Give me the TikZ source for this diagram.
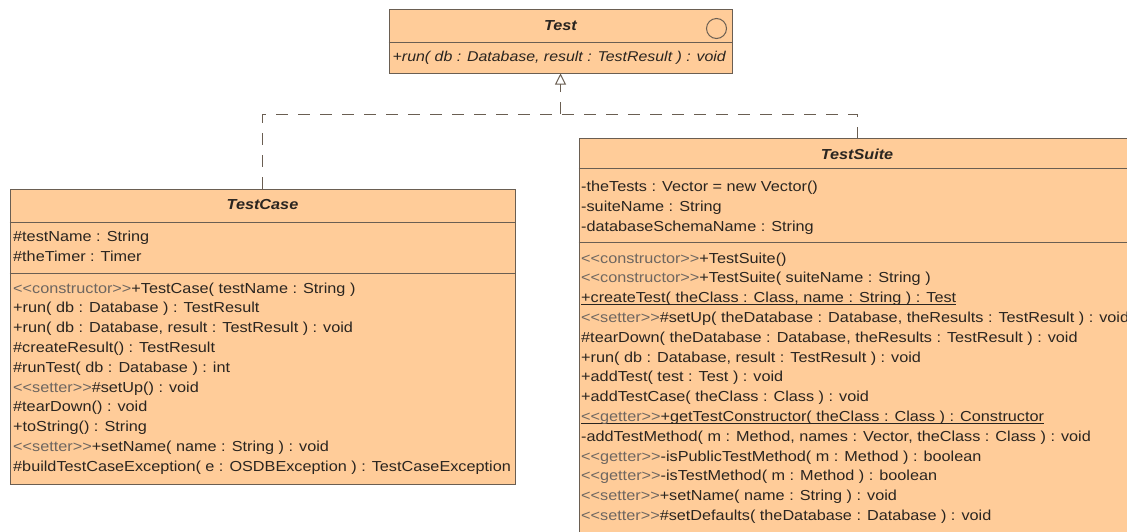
\documentclass[tikz,border=0pt]{standalone}
\usepackage{fontspec}
\setmainfont{Liberation Sans}[FakeStretch=1.12]
\usetikzlibrary{arrows.meta}
\definecolor{classfill}{HTML}{FFCC99}
\definecolor{classline}{HTML}{6A5E52}
\definecolor{txt}{HTML}{2A2520}
\definecolor{stereo}{HTML}{6E6660}
\newcommand{\stc}[1]{\textcolor{stereo}{<{}<#1>{}>}}
\newcommand{\uln}[1]{\setbox0\hbox{#1}\rlap{\rule[-2.2pt]{\wd0}{0.9pt}}\box0}
\begin{document}
\begin{tikzpicture}[x=1pt,y=-1pt,
  classbox/.style={draw=classline, fill=classfill, line width=1pt, inner sep=0pt},
  row/.style={anchor=base west, inner sep=0pt, font=\fontsize{14.5}{16}\selectfont, text=txt},
  title/.style={anchor=base, inner sep=0pt, font=\fontsize{14.5}{16}\selectfont\bfseries\itshape, text=txt},
  divider/.style={draw=classline, line width=1pt},
  realize/.style={draw=classline, line width=1pt, dash pattern=on 12pt off 10pt},
]
\useasboundingbox (0,0) rectangle (1127,531);
\clip (0,0) rectangle (1127,531);

% ---------- Test interface ----------
\node[classbox, minimum width=343pt, minimum height=64pt] (test) at (560.5,41) {};
\draw[divider] (test.west |- 0,42) -- (test.east |- 0,42);
\node[circle, draw=classline, line width=1pt, minimum size=20pt, inner sep=0pt] (testicon) at (716.5,28.5) {};
\node[title] (testtitle) at (560.5,30) {Test};
\node[row, font=\fontsize{14.2}{16}\selectfont\itshape] (testm1) at (392.5,61) {+run( db : Database, result : TestResult ) : void};

% ---------- TestCase ----------
\node[classbox, minimum width=505pt, minimum height=295pt] (testcase) at (262.5,336.5) {};
\draw[divider] (testcase.west |- 0,222) -- (testcase.east |- 0,222);
\draw[divider] (testcase.west |- 0,273) -- (testcase.east |- 0,273);
\node[title] (tctitle) at (262.5,209) {TestCase};
\node[row] (tca1) at (13,241) {\#testName : String};
\node[row] (tca2) at (13,261) {\#theTimer : Timer};
\node[row] (tcm1) at (13,293) {\stc{constructor}+TestCase( testName : String )};
\node[row] (tcm2) at (13,312.8) {+run( db : Database ) : TestResult};
\node[row] (tcm3) at (13,332.6) {+run( db : Database, result : TestResult ) : void};
\node[row] (tcm4) at (13,352.4) {\#createResult() : TestResult};
\node[row] (tcm5) at (13,372.2) {\#runTest( db : Database ) : int};
\node[row] (tcm6) at (13,392) {\stc{setter}\#setUp() : void};
\node[row] (tcm7) at (13,411.8) {\#tearDown() : void};
\node[row] (tcm8) at (13,431.6) {+toString() : String};
\node[row] (tcm9) at (13,451.4) {\stc{setter}+setName( name : String ) : void};
\node[row] (tcm10) at (13,471.2) {\#buildTestCaseException( e : OSDBException ) : TestCaseException};

% ---------- TestSuite ----------
\node[classbox, minimum width=556pt, minimum height=422pt] (testsuite) at (857,349) {};
\draw[divider] (testsuite.west |- 0,168) -- (testsuite.east |- 0,168);
\draw[divider] (testsuite.west |- 0,242) -- (testsuite.east |- 0,242);
\node[title] (tstitle) at (857,159) {TestSuite};
\node[row] (tsa1) at (581,191) {-theTests : Vector = new Vector()};
\node[row] (tsa2) at (581,211.3) {-suiteName : String};
\node[row] (tsa3) at (581,231.5) {-databaseSchemaName : String};
\node[row] (tsm1) at (581,263) {\stc{constructor}+TestSuite()};
\node[row] (tsm2) at (581,282.8) {\stc{constructor}+TestSuite( suiteName : String )};
\node[row] (tsm3) at (581,302.6) {\uln{+createTest( theClass : Class, name : String ) : Test}};
\node[row] (tsm4) at (581,322.4) {\stc{setter}\#setUp( theDatabase : Database, theResults : TestResult ) : void};
\node[row] (tsm5) at (581,342.2) {\#tearDown( theDatabase : Database, theResults : TestResult ) : void};
\node[row] (tsm6) at (581,362) {+run( db : Database, result : TestResult ) : void};
\node[row] (tsm7) at (581,381.8) {+addTest( test : Test ) : void};
\node[row] (tsm8) at (581,401.6) {+addTestCase( theClass : Class ) : void};
\node[row] (tsm9) at (581,421.4) {\uln{\stc{getter}+getTestConstructor( theClass : Class ) : Constructor}};
\node[row] (tsm10) at (581,441.2) {-addTestMethod( m : Method, names : Vector, theClass : Class ) : void};
\node[row] (tsm11) at (581,461) {\stc{getter}-isPublicTestMethod( m : Method ) : boolean};
\node[row] (tsm12) at (581,480.8) {\stc{getter}-isTestMethod( m : Method ) : boolean};
\node[row] (tsm13) at (581,500.6) {\stc{setter}+setName( name : String ) : void};
\node[row] (tsm14) at (581,520.4) {\stc{setter}\#setDefaults( theDatabase : Database ) : void};

% ---------- Realization connectors ----------
\coordinate (junction) at (test.south |- 0,114);
\draw[realize, -{Triangle[open, width=11pt, length=11pt]}] (junction) -- (test.south);
\draw[realize] (testcase.north) -- (testcase.north |- junction) -- (testsuite.north |- junction) -- (testsuite.north);
\end{tikzpicture}
\end{document}
